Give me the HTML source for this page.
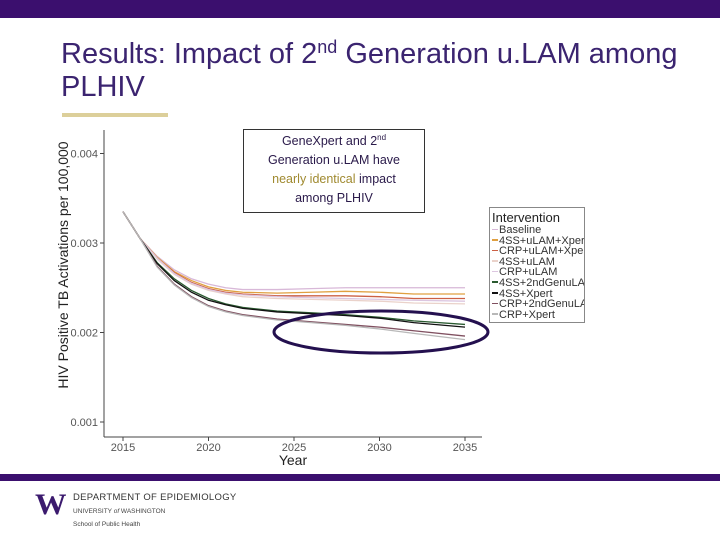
<!DOCTYPE html>
<html><head><meta charset="utf-8"><style>
body{margin:0;width:720px;height:540px;overflow:hidden;background:#fff;font-family:"Liberation Sans",sans-serif;position:relative}
.abs{position:absolute}
</style></head><body>
<div class="abs" style="left:0;top:0;width:720px;height:18px;background:#3b0f6e"></div>
<div class="abs" style="left:61px;top:38px;font-size:29px;line-height:33px;color:#3b2470;white-space:nowrap">Results: Impact of 2<sup style="font-size:18px;vertical-align:10px;line-height:0">nd</sup> Generation u.LAM among<br>PLHIV</div>
<div class="abs" style="left:62px;top:113px;width:106px;height:4px;background:#dccf9a"></div>
<svg class="abs" style="left:0;top:0" width="720" height="540">
<g id="axes"></g><g id="lines"></g>
<ellipse cx="381" cy="332" rx="107" ry="21" fill="none" stroke="#24104f" stroke-width="3"/>
</svg>
<div class="abs" style="left:243px;top:129px;width:182px;height:84px;border:1px solid #333;background:#fff;text-align:center;font-size:12.5px;line-height:19px;color:#2a1a4a;padding-top:2px;box-sizing:border-box">GeneXpert and 2<sup style="font-size:8px;line-height:0">nd</sup><br>Generation u.LAM have<br><span style="color:#a08a30">nearly identical</span> impact<br>among PLHIV</div>
<div class="abs" style="left:489px;top:207px;width:96px;height:116px;border:1px solid #888;background:#fff;box-sizing:border-box;padding:2px 0 0 2px;font-size:11px;line-height:10.6px;color:#333">
<div style="font-size:13px;line-height:15px;color:#222">Intervention</div><div id="leg"></div></div>
<div class="abs" style="left:0;top:474px;width:720px;height:7px;background:#3b0f6e"></div>
<div class="abs" style="left:35px;top:490px;font-family:'Liberation Serif',serif;font-weight:bold;font-size:30px;line-height:30px;color:#3b1a6e;transform:scaleX(1.05);transform-origin:left">W</div>
<div class="abs" style="left:73px;top:492px;font-size:9.5px;color:#333;letter-spacing:0.3px">DEPARTMENT OF EPIDEMIOLOGY</div>
<div class="abs" style="left:73px;top:508px;font-size:6.5px;color:#444">UNIVERSITY <i>of</i> WASHINGTON</div>
<div class="abs" style="left:73px;top:521px;font-size:6.5px;color:#444">School of Public Health</div>
<script>
const years=[2015,2016,2017,2018,2019,2020,2021,2022,2024,2026,2028,2030,2032,2035];
const seriesNames=["Baseline","4SS+uLAM+Xpert","CRP+uLAM+Xpert","4SS+uLAM","CRP+uLAM","4SS+2ndGenuLAM","4SS+Xpert","CRP+2ndGenuLAM","CRP+Xpert"];
const baseline=[0.00335,0.00305,0.00285,0.00270,0.00260,0.00254,0.00250,0.00248,0.00248,0.00249,0.00250,0.00250,0.00250,0.00250];
const ssUlamXpert=[0.00335,0.00305,0.00284,0.00268,0.00258,0.00251,0.00247,0.00245,0.00244,0.00245,0.00246,0.00245,0.00243,0.00243];
const crpUlamXpert=[0.00335,0.00305,0.00283,0.00267,0.00256,0.00249,0.00245,0.00243,0.00241,0.00241,0.00241,0.00240,0.00238,0.00238];
const ssUlam=[0.00335,0.00305,0.00282,0.00265,0.00254,0.00247,0.00243,0.00240,0.00238,0.00237,0.00236,0.00235,0.00233,0.00232];
const crpUlam=[0.00335,0.00305,0.00283,0.00266,0.00255,0.00248,0.00244,0.00242,0.00240,0.00239,0.00238,0.00237,0.00236,0.00235];
const ss2nd=[0.00335,0.00305,0.00278,0.00260,0.00247,0.00238,0.00232,0.00228,0.00224,0.00222,0.00220,0.00217,0.00213,0.00209];
const ssXpert=[0.00335,0.00305,0.00277,0.00258,0.00245,0.00236,0.00231,0.00227,0.00223,0.00221,0.00219,0.00216,0.00211,0.00206];
const crp2nd=[0.00335,0.00305,0.00274,0.00254,0.00240,0.00230,0.00224,0.00220,0.00215,0.00212,0.00209,0.00206,0.00202,0.00196];
const crpXpert=[0.00335,0.00305,0.00273,0.00253,0.00239,0.00229,0.00223,0.00219,0.00214,0.00211,0.00208,0.00204,0.00199,0.00192];
const yTicks=[0.001,0.002,0.003,0.004];
const xTicks=[2015,2020,2025,2030,2035];
const allSeries=[baseline,ssUlamXpert,crpUlamXpert,ssUlam,crpUlam,ss2nd,ssXpert,crp2nd,crpXpert];
const colors=["#d8b8d8","#e0a040","#cc6045","#ead2ca","#dcc6e0","#2a5a30","#111","#805060","#b8b8b8"];
const X=y=>123+(y-2015)*17.1, Y=v=>243-(v-0.003)*89500;
const NS="http://www.w3.org/2000/svg";
const ax=document.getElementById('axes'), ln=document.getElementById('lines');
function mk(t,a,p){const e=document.createElementNS(NS,t);for(const k in a)e.setAttribute(k,a[k]);p.appendChild(e);return e;}
let e=mk('line',{x1:104,y1:130,x2:104,y2:437,stroke:'#444','stroke-width':1},ax);


e=mk('line',{x1:104,y1:437,x2:482,y2:437,stroke:'#444','stroke-width':1},ax);


yTicks.forEach(v=>{mk('line',{x1:100,x2:104,y1:Y(v),y2:Y(v),stroke:'#444'},ax);
 const t=mk('text',{x:98,y:Y(v)+4,'text-anchor':'end','font-size':11,fill:'#555'},ax);t.textContent=v.toFixed(3);
 
 });
xTicks.forEach(v=>{mk('line',{x1:X(v),x2:X(v),y1:437,y2:441,stroke:'#444'},ax);
 const t=mk('text',{x:X(v),y:451,'text-anchor':'middle','font-size':11,fill:'#555'},ax);t.textContent=v;
 
 });
let t=mk('text',{x:293,y:465,'text-anchor':'middle','font-size':14,fill:'#222'},ax);t.textContent='Year';


t=mk('text',{x:0,y:0,'text-anchor':'middle','font-size':14,fill:'#222',transform:'translate(68,265) rotate(-90)'},ax);t.textContent='HIV Positive TB Activations per 100,000';


const leg=document.getElementById('leg');
allSeries.forEach((s,i)=>{
 const p=mk('polyline',{points:s.map((v,j)=>X(years[j])+','+Y(v)).join(' '),fill:'none',stroke:colors[i],'stroke-width':1.3},ln);
 
 
 const d=document.createElement('div');
 
 
 d.innerHTML='<span style="display:inline-block;width:6px;height:1.5px;background:'+colors[i]+';vertical-align:3px;margin-right:1px"></span>'+seriesNames[i];
 d.style.whiteSpace='nowrap';d.style.overflow='hidden';
 leg.appendChild(d);
});
</script>
</body></html>
